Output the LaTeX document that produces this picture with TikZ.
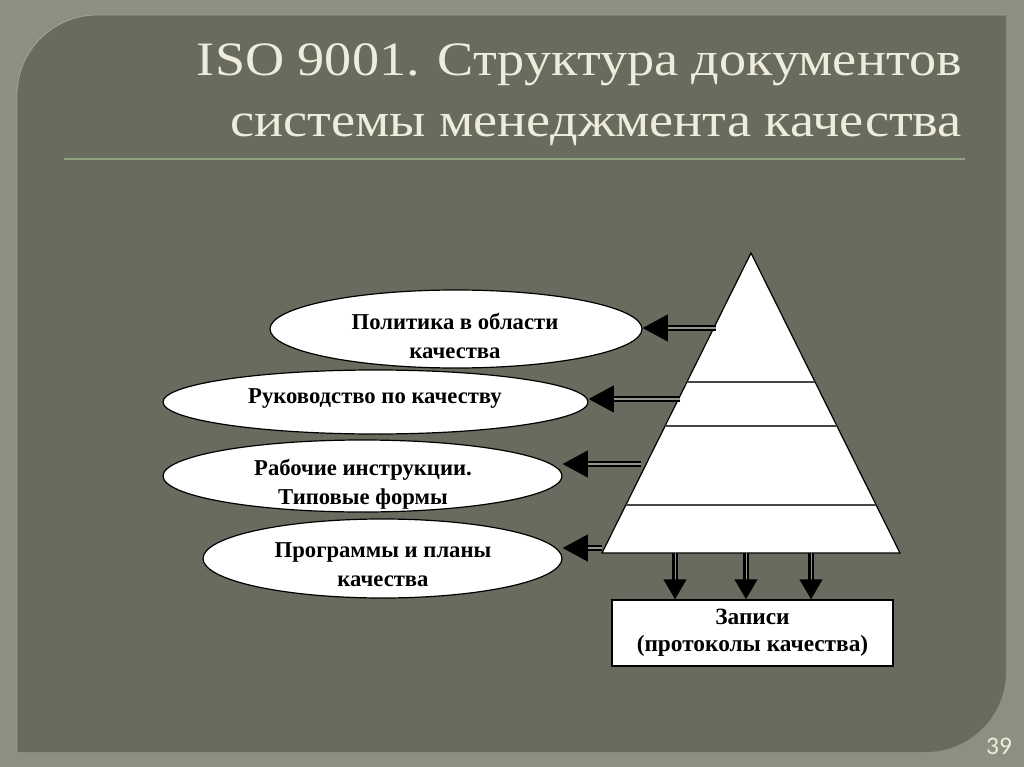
\documentclass[tikz,border=0pt]{standalone}
\usepackage{fontspec}
\setmainfont{Liberation Serif}
\newfontfamily\titlefont[FakeStretch=1.13]{Liberation Serif}
\newfontfamily\numfont{Carlito}
\usetikzlibrary{shapes.geometric,arrows.meta,calc}

\definecolor{framebg}{RGB}{141,144,128}
\definecolor{panelbg}{RGB}{104,107,93}
\definecolor{paneledge}{RGB}{160,165,146}
\definecolor{titletext}{RGB}{238,236,218}
\definecolor{rulegreen}{RGB}{147,162,130}
\definecolor{gapgray}{RGB}{150,150,145}

\tikzset{
  oval/.style={ellipse, draw=black, line width=0.9pt, fill=white, inner sep=0pt},
  ovaltext/.style={align=center, inner sep=0pt, font=\fontsize{17}{21.5}\selectfont\bfseries},
  leftarrow/.style={draw=black, line width=1.9pt, double=gapgray, double distance=0.8pt,
    -{Triangle[length=19pt,width=20pt]}},
  downarrow/.style={draw=black, line width=1.9pt, double=gapgray, double distance=0.7pt,
    -{Triangle[length=15pt,width=17pt]}},
  tierline/.style={draw={rgb,255:red,70;green,70;blue,70}, line width=1.1pt}
}

\begin{document}
\begin{tikzpicture}[x=0.75pt,y=0.75pt,yscale=-1,xscale=1]
\useasboundingbox (0,0) rectangle (1024,767);

%Shape: Frame
\fill[framebg] (0,0) rectangle (1024,767);
%Shape: Panel
\fill[panelbg] (17,95) .. controls (17,51) and (53,15) .. (97,15) -- (1006,15) -- (1006,672) .. controls (1006,716) and (970,752) .. (926,752) -- (17,752) -- cycle;
\draw[paneledge, line width=0.6pt] (17,752) -- (17,95) .. controls (17,51) and (53,15) .. (97,15) -- (1006,15);

% Title
\node[anchor=base east, inner sep=0pt, text=titletext, font=\titlefont\fontsize{36}{40}\selectfont] (title1) at (962,75) {ISO 9001. Структура документов};
\node[anchor=base east, inner sep=0pt, text=titletext, font=\titlefont\fontsize{36}{40}\selectfont] (title2) at (962,137) {системы менеджмента качества};
%Straight Lines: rule under the title
\draw[rulegreen, line width=1.5pt] (64,159) -- (965,159);

%Shape: Pyramid
\coordinate (apex) at (751,253);
\coordinate (bl) at (602,553);
\coordinate (br) at (900,553);
\draw[fill=white, line width=0.9pt, line join=miter] (apex) -- (bl) -- (br) -- cycle;
\draw[tierline] ($(apex)!0.43!(bl)$) -- ($(apex)!0.43!(br)$);
\draw[tierline] ($(apex)!0.577!(bl)$) -- ($(apex)!0.577!(br)$);
\draw[tierline] ($(apex)!0.84!(bl)$) -- ($(apex)!0.84!(br)$);

%Shape: Ellipses
\node[oval, minimum width=279pt, minimum height=58.5pt] (pol) at (456,329) {};
\node[oval, minimum width=318.75pt, minimum height=48pt] (ruk) at (375.5,402) {};
\node[oval, minimum width=299.25pt, minimum height=54pt] (rab) at (362.5,476) {};
\node[oval, minimum width=269.25pt, minimum height=59.25pt] (prg) at (382.5,558.5) {};

% Text Node
\node[ovaltext] (polt) at (455,336) {Политика в области\\качества};
% Text Node
\node[ovaltext] (rukt) at (375,399) {Руководство по качеству};
% Text Node
\node[ovaltext] (rabt) at (363,484) {Рабочие инструкции.\\Типовые формы};
% Text Node
\node[ovaltext] (prgt) at (383,565) {Программы и планы\\качества};

%Shape: Records box
\node[draw=black, line width=1.1pt, fill=white, minimum width=210.75pt, minimum height=49.5pt,
  align=center, font=\fontsize{17.5}{20.5}\selectfont\bfseries] (rec) at (752.5,633) {Записи\\(протоколы качества)};

%Arrows to the ellipses
\coordinate (a1) at (716,328);
\coordinate (a2) at (680,399);
\coordinate (a3) at (641,464);
\coordinate (a4) at (602,548);
\draw[leftarrow] (a1) -- (a1 -| pol.east);
\draw[leftarrow] (a2) -- (a2 -| ruk.east);
\draw[leftarrow] (a3) -- (a3 -| rab.east);
\draw[leftarrow] (a4) -- (a4 -| prg.east);

%Arrows to the records
\coordinate (d1) at (675,553);
\coordinate (d2) at (746,553);
\coordinate (d3) at (811,553);
\draw[downarrow] (d1) -- (d1 |- rec.north);
\draw[downarrow] (d2) -- (d2 |- rec.north);
\draw[downarrow] (d3) -- (d3 |- rec.north);

% Text Node: slide number
\node[inner sep=0pt, text=titletext, font=\numfont\fontsize{19}{22}\selectfont] (pgno) at (999,746) {39};

\end{tikzpicture}
\end{document}
